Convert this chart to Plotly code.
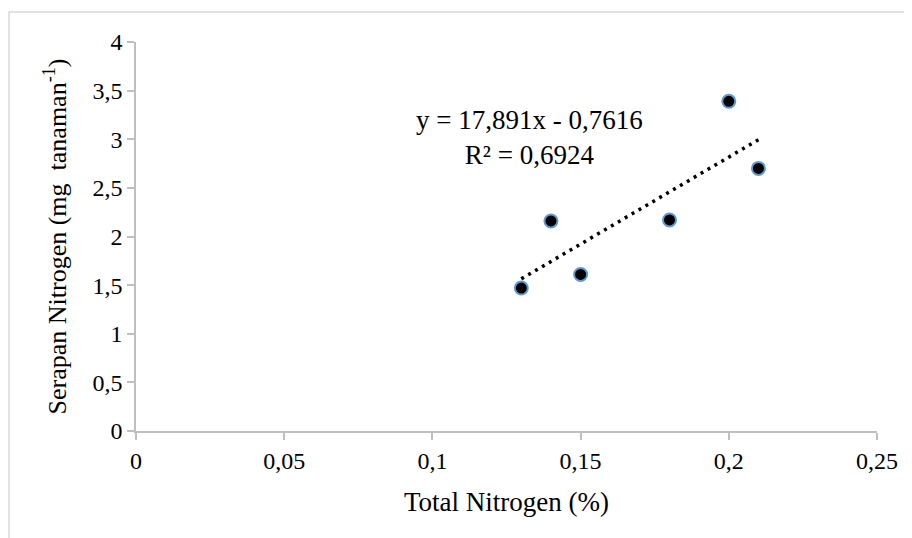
import plotly.graph_objects as go

total_nitrogen = [0.13, 0.14, 0.15, 0.18, 0.20, 0.21]
serapan_nitrogen = [1.47, 2.16, 1.61, 2.17, 3.39, 2.70]

slope = 17.891
intercept = -0.7616
r2_text = "0,6924"

trend_x = [min(total_nitrogen), max(total_nitrogen)]
trend_y = [slope * v + intercept for v in trend_x]

FONT = "Liberation Serif, Times New Roman, serif"
AXIS_GRAY = "#bfbfbf"

fig = go.Figure()
fig.add_trace(go.Scatter(
    x=trend_x, y=trend_y, mode="lines",
    line=dict(color="black", width=3.5, dash="3px,5px"),
    hoverinfo="skip", showlegend=False,
))
fig.add_trace(go.Scatter(
    x=total_nitrogen, y=serapan_nitrogen, mode="markers",
    marker=dict(color="black", size=13, line=dict(color="#5b9bd5", width=2)),
    showlegend=False,
))

fig.add_annotation(
    x=0.1326, y=3.02, xref="x", yref="y",
    text="y = 17,891x - 0,7616<br>R² = " + r2_text,
    showarrow=False, font=dict(family=FONT, size=27, color="black"),
    align="center", xanchor="center", yanchor="middle",
)

# the page body adds an 8 px offset, so the figure is 8 px smaller
fig.update_layout(
    width=904, height=530,
    margin=dict(l=128, r=35, t=34, b=107, autoexpand=False),
    paper_bgcolor="white", plot_bgcolor="white",
    separators=",.",
    font=dict(family=FONT, color="black"),
    shapes=[dict(type="rect", xref="paper", yref="paper",
                 x0=-0.1714, x1=1.2, y0=-0.4, y1=1.0771,
                 line=dict(color="#d9d9d9", width=1.5), fillcolor="rgba(0,0,0,0)",
                 layer="below")],
)
fig.update_xaxes(
    range=[0, 0.25], dtick=0.05, tick0=0, automargin=False,
    showline=True, linecolor=AXIS_GRAY, linewidth=1.5,
    ticks="outside", ticklen=7, tickcolor=AXIS_GRAY, tickwidth=1.5,
    showgrid=False, zeroline=False,
    tickfont=dict(family=FONT, size=24, color="black"),
    title=dict(text="Total Nitrogen (%)", font=dict(family=FONT, size=27, color="black"), standoff=20),
)
fig.update_yaxes(
    range=[0, 4], dtick=0.5, tick0=0, automargin=False,
    showline=True, linecolor=AXIS_GRAY, linewidth=1.5,
    ticks="outside", ticklen=7, tickcolor=AXIS_GRAY, tickwidth=1.5,
    showgrid=False, zeroline=False,
    tickfont=dict(family=FONT, size=24, color="black"),
    title=dict(text="Serapan Nitrogen (mg  tanaman<sup>-1</sup>)", font=dict(family=FONT, size=26, color="black"), standoff=18),
)

fig.write_html("out.html")
